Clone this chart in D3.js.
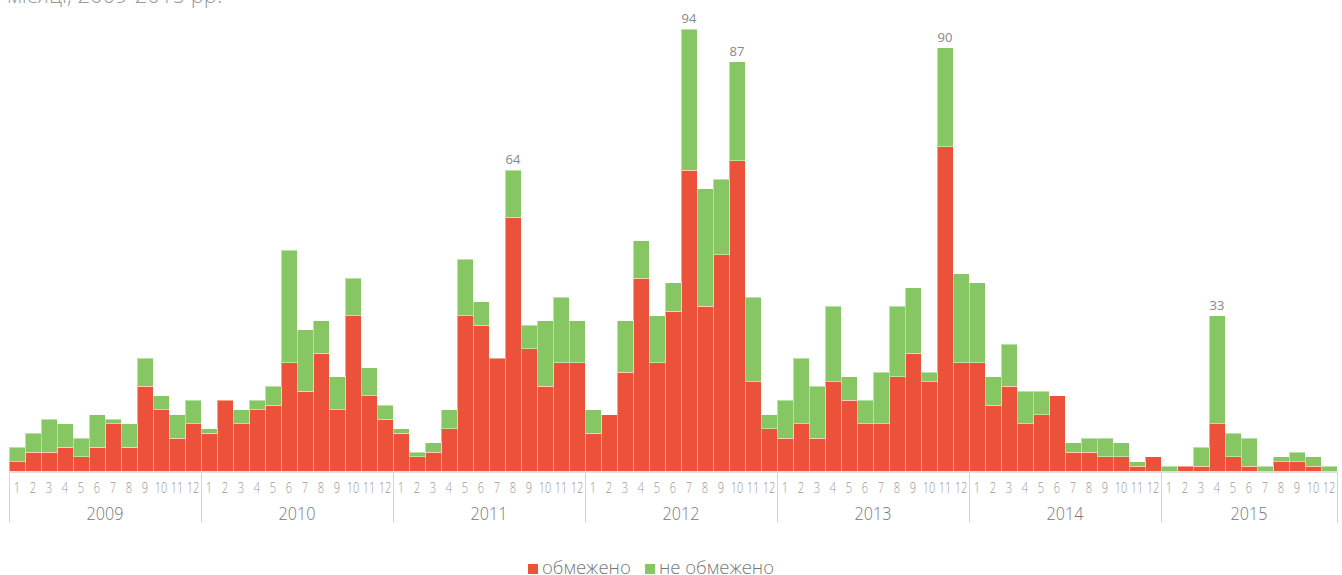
<!DOCTYPE html>
<meta charset="utf-8">
<script src="https://cdn.jsdelivr.net/npm/d3@7"></script>
<style>

body {
  margin: 0;
  font-family: "Open Sans", sans-serif;
}

.bar {
  shape-rendering: crispEdges;
}

</style>
<body>
<script>

  // Years and months (2015 has no November)
  var years = [2009, 2010, 2011, 2012, 2013, 2014, 2015];
  var months = [
    [1,2,3,4,5,6,7,8,9,10,11,12],
    [1,2,3,4,5,6,7,8,9,10,11,12],
    [1,2,3,4,5,6,7,8,9,10,11,12],
    [1,2,3,4,5,6,7,8,9,10,11,12],
    [1,2,3,4,5,6,7,8,9,10,11,12],
    [1,2,3,4,5,6,7,8,9,10,11,12],
    [1,2,3,4,5,6,7,8,9,10,12]
  ];

  // "обмежено" per month
  var limited = [
    2,4,4,5,3,5,10,5,18,13,7,10,
    8,15,10,13,14,23,17,25,13,33,16,11,
    8,3,4,9,33,31,24,54,26,18,23,23,
    8,12,21,41,23,34,64,35,46,66,19,9,
    7,10,7,19,15,10,10,20,25,19,69,23,
    23,14,18,10,12,16,4,4,3,3,1,3,
    0,1,1,10,3,1,0,2,2,1,0
  ];

  // "не обмежено" per month
  var notLimited = [
    3,4,7,5,4,7,1,5,6,3,5,5,
    1,0,3,2,4,24,13,7,7,8,6,3,
    1,1,2,4,12,5,0,10,5,14,14,9,
    5,0,11,8,10,6,30,25,16,21,18,3,
    8,14,11,16,5,5,11,15,14,2,21,19,
    17,6,9,7,5,0,2,3,4,3,1,0,
    1,0,4,23,5,6,1,1,2,2,1
  ];

  var seriesNames = ["обмежено", "не обмежено"];
  var colors = ["#ec523a", "#86c663"];

  // bars that carry a total label
  var labelled = ["2011-8", "2012-7", "2012-10", "2013-11", "2015-4"];

  var width = 1342,
      height = 575,
      baseline = 471;

  // build the table
  var data = [];
  years.forEach(function(yr, yi) {
    months[yi].forEach(function(m) {
      var i = data.length;
      data.push({key: yr + "-" + m, year: yr, month: m,
                 "обмежено": limited[i], "не обмежено": notLimited[i]});
    });
  });

  var svg = d3.select("body").append("svg")
    .attr("width", width)
    .attr("height", height);

  var x = d3.scaleBand()
    .domain(data.map(function(d) { return d.key; }))
    .range([9, 1337])
    .padding(0);

  var y = d3.scaleLinear()
    .domain([0, 94])
    .range([baseline, 29]);

  var stacked = d3.stack().keys(seriesNames)(data);

  // title (cut off at the top)
  svg.append("text")
    .text("місяці, 2009-2015 рр.")
    .attr("x", 7)
    .attr("y", 3)
    .attr("font-size", "22px")
    .attr("font-weight", 300)
    .attr("fill", "#999");

  //////////////////// Bars ////////////////////
  svg.selectAll(".series")
    .data(stacked)
    .enter().append("g")
    .attr("class", "series")
    .attr("fill", function(d, i) { return colors[i]; })
    .selectAll("rect")
    .data(function(d) { return d; })
    .enter().append("rect")
    .attr("class", "bar")
    .attr("x", function(d) { return x(d.data.key); })
    .attr("width", x.bandwidth())
    .attr("y", function(d) { return y(d[1]); })
    .attr("height", function(d) { return y(d[0]) - y(d[1]); })
    .attr("stroke", "rgba(255,255,255,0.45)")
    .attr("stroke-width", 1);

  // total labels
  svg.selectAll(".total")
    .data(data.filter(function(d) { return labelled.indexOf(d.key) >= 0; }))
    .enter().append("text")
    .attr("class", "total")
    .text(function(d) { return d["обмежено"] + d["не обмежено"]; })
    .attr("x", function(d) { return x(d.key) + x.bandwidth() / 2; })
    .attr("y", function(d) { return y(d["обмежено"] + d["не обмежено"]) - 6; })
    .attr("text-anchor", "middle")
    .attr("font-size", "13px")
    .attr("fill", "#888");

  //////////////////// Axis ////////////////////
  svg.append("line")
    .attr("x1", 9)
    .attr("x2", 1338)
    .attr("y1", baseline + 1)
    .attr("y2", baseline + 1)
    .attr("stroke", "#ddd")
    .attr("stroke-width", 2);

  var xAxis = d3.axisBottom(x)
    .tickSize(0)
    .tickFormat(function(k) { return k.split("-")[1]; });

  var axisG = svg.append("g")
    .attr("transform", "translate(0," + (baseline + 1) + ")")
    .call(xAxis);
  axisG.select(".domain").remove();
  // narrow month numbers
  axisG.selectAll("text")
    .attr("y", 21)
    .attr("dy", 0)
    .attr("transform", "scale(0.74,1)")
    .attr("font-family", "Open Sans, sans-serif")
    .attr("font-size", "15px")
    .attr("font-weight", 300)
    .attr("fill", "#999");

  // year separators and labels
  var yearInfo = years.map(function(yr, yi) {
    var first = x(yr + "-" + months[yi][0]);
    var last = x(yr + "-" + months[yi][months[yi].length - 1]) + x.bandwidth();
    return {year: yr, x0: first, x1: last};
  });

  svg.selectAll(".sep")
    .data(yearInfo.map(function(d) { return d.x0; }).concat([yearInfo[yearInfo.length - 1].x1]))
    .enter().append("line")
    .attr("class", "sep")
    .attr("x1", function(d) { return Math.round(d) + 0.5; })
    .attr("x2", function(d) { return Math.round(d) + 0.5; })
    .attr("y1", baseline + 2)
    .attr("y2", 523)
    .attr("stroke", "#d4d4d4")
    .attr("stroke-width", 1);

  svg.selectAll(".year")
    .data(yearInfo)
    .enter().append("text")
    .attr("class", "year")
    .text(function(d) { return d.year; })
    .attr("transform", function(d) { return "translate(" + ((d.x0 + d.x1) / 2) + ",520) scale(0.9,1)"; })
    .attr("text-anchor", "middle")
    .attr("font-size", "18px")
    .attr("font-weight", 300)
    .attr("fill", "#777");

  //////////////////// Legend ////////////////////
  var legendX = [528, 645];
  var legend = svg.selectAll(".legend")
    .data(seriesNames)
    .enter().append("g")
    .attr("class", "legend")
    .attr("transform", function(d, i) { return "translate(" + legendX[i] + ",564)"; });

  legend.append("rect")
    .attr("x", 0)
    .attr("y", 0)
    .attr("width", 10)
    .attr("height", 10)
    .attr("fill", function(d, i) { return colors[i]; });

  legend.append("text")
    .text(function(d) { return d; })
    .attr("x", 14)
    .attr("y", 10)
    .attr("font-size", "18.5px")
    .attr("font-weight", 300)
    .attr("fill", "#777");

</script>
</body>
</html>
